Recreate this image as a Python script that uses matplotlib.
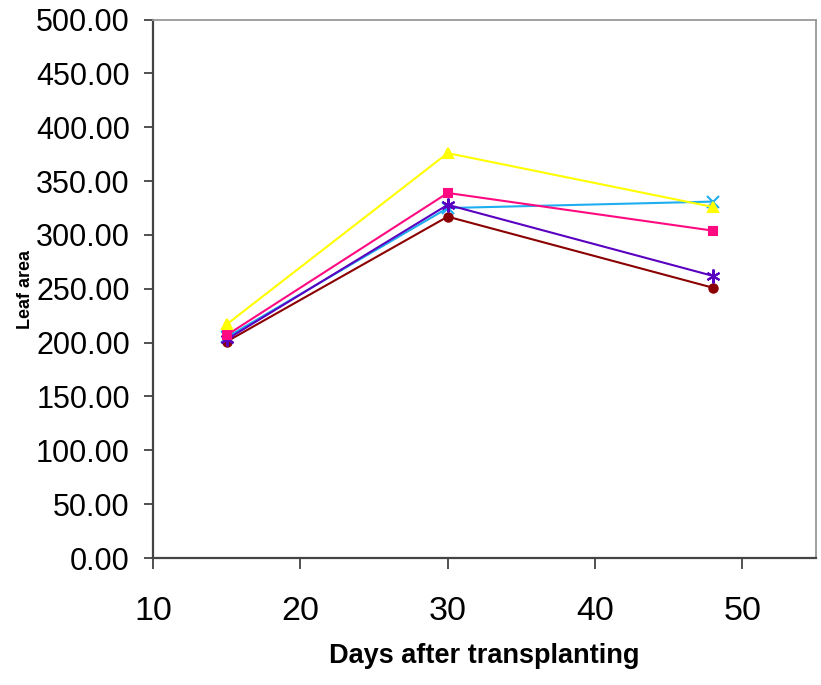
import matplotlib.pyplot as plt
from matplotlib.ticker import FormatStrFormatter

FONT = ['Liberation Sans', 'DejaVu Sans']

# sampling days after transplanting
days = [15, 30, 48]

# leaf area per treatment
leaf_yellow = [217, 376, 326]
leaf_pink = [207, 339, 304]
leaf_cyan = [205, 325, 331]
leaf_purple = [203, 328, 262]
leaf_darkred = [201, 317, 251]

series = [
    (leaf_darkred, '#8B0000', 'o', 6),
    (leaf_cyan, '#1EAEF0', 'x', 8),
    (leaf_purple, '#5A00C0', (6, 2, 0), 10),
    (leaf_pink, '#FF0A80', 's', 6),
    (leaf_yellow, '#FFFF00', '^', 7),
]

fig = plt.figure(figsize=(8.21, 6.85), dpi=100)
ax = fig.add_axes([0.1864, 0.1854, 0.8075, 0.786])

for vals, col, mk, ms in series:
    ax.plot(days, vals, color=col, marker=mk, markersize=ms,
            markeredgewidth=1.5, linewidth=1.5)

ax.set_xlim(10, 55)
ax.set_ylim(0, 500)
ax.set_xticks([10, 20, 30, 40, 50])
ax.set_yticks(range(0, 501, 50))
ax.yaxis.set_major_formatter(FormatStrFormatter('%.2f'))

for lab in ax.get_yticklabels():
    lab.set_family(FONT)
    lab.set_fontsize(22)
for lab in ax.get_xticklabels():
    lab.set_family(FONT)
    lab.set_fontsize(24.5)

ax.tick_params(axis='y', direction='out', length=6.7, width=1.2, pad=10, color='#333333')
ax.tick_params(axis='x', direction='out', length=8, width=1.2, pad=19, color='#333333')

ax.spines['left'].set_color('#444444')
ax.spines['bottom'].set_color('#444444')
ax.spines['left'].set_linewidth(1.6)
ax.spines['bottom'].set_linewidth(1.6)
ax.spines['top'].set_color('#999999')
ax.spines['right'].set_color('#999999')
ax.spines['top'].set_linewidth(1.3)
ax.spines['right'].set_linewidth(1.3)

ax.set_xlabel('Days after transplanting', family=FONT,
              fontsize=19.5, fontweight='bold', labelpad=12)
fig.text(0.031, 0.577, 'Leaf area', family=FONT,
         fontsize=13, fontweight='bold', rotation=90, ha='center', va='center')

fig.savefig('out.png', dpi=100)
